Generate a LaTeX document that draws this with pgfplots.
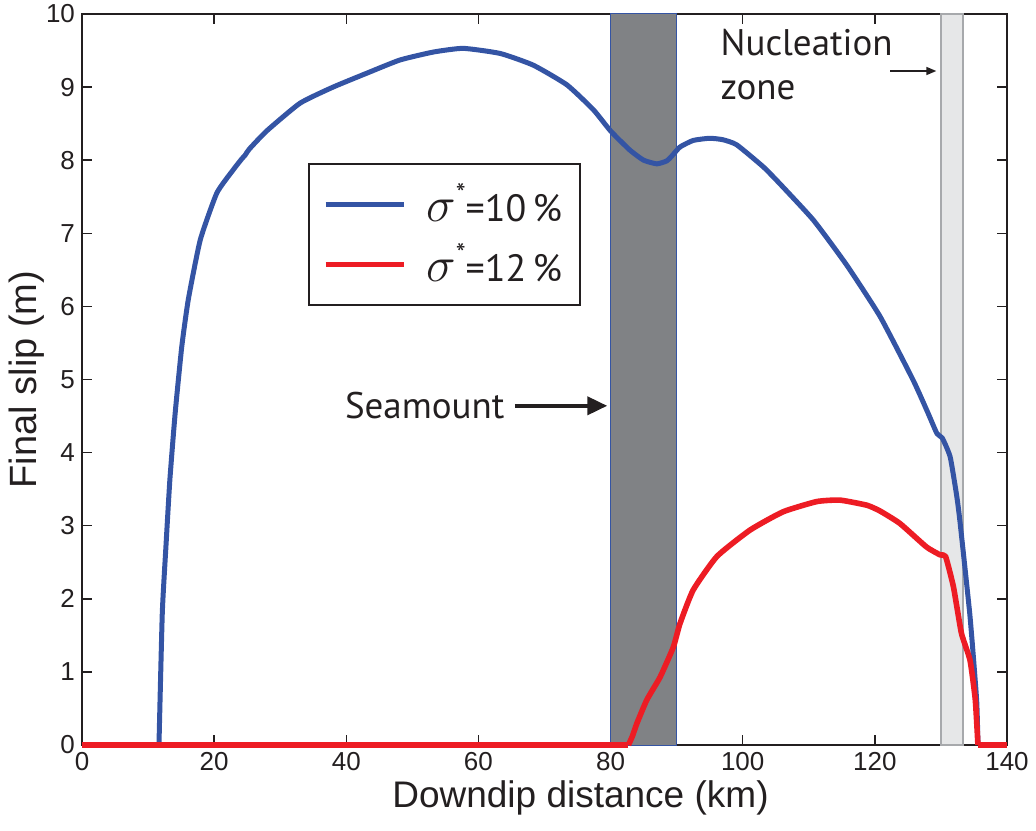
\documentclass[border=0pt]{standalone}
\usepackage{fontspec}
\setmainfont{Liberation Sans}
\newfontfamily\annot{PT Sans}
\usepackage{pgfplots}
\pgfplotsset{compat=1.18}
\usetikzlibrary{arrows.meta}
\definecolor{slipblue}{RGB}{52,84,164}
\definecolor{slipred}{RGB}{237,28,36}
\definecolor{seamount}{RGB}{128,130,133}
\definecolor{nucfill}{RGB}{230,231,232}
\definecolor{nucedge}{RGB}{167,169,172}
\definecolor{ink}{RGB}{35,31,32}
\newcommand{\sig}{{\fontsize{25}{25}\selectfont$\sigma$}\raisebox{9pt}{\fontsize{14}{14}\selectfont *}}

\begin{document}
\begin{tikzpicture}
% picture frame: axis box 462.5pt x 365.5pt plus margins
\useasboundingbox (-41pt,-42.5pt) rectangle (477pt,372.5pt);
\begin{axis}[
    at={(0,0)}, anchor=south west,
    scale only axis, width=462.5pt, height=365.5pt,
    xmin=0, xmax=140, ymin=0, ymax=10,
    xtick={0,20,...,140}, ytick={0,1,...,10},
    tick align=inside, major tick length=5pt,
    tick style={line width=0.7pt, color=ink},
    axis line style={line width=1pt, color=ink},
    ticklabel style={font=\fontsize{13}{15}\selectfont, text=ink},
    /pgf/number format/assume math mode=true,
    xlabel={Downdip distance (km)},
    ylabel={Final slip (m)},
    xlabel style={font=\fontsize{18.5}{20}\selectfont, text=ink,
        yshift=2pt, xshift=18pt},
    ylabel style={font=\fontsize{19}{21}\selectfont, text=ink, yshift=-6pt},
    clip=false,
    legend style={at={(axis cs:34.2,7.96)}, anchor=north west,
        draw=ink, line width=0.8pt, fill=white,
        font=\annot\fontsize{19}{22}\selectfont, text=ink,
        inner xsep=7pt, inner ysep=8pt, row sep=5.5pt},
    legend cell align=left,
    legend image code/.code={\draw[#1] (0pt,0pt) -- (39pt,0pt);},
]
% seamount and nucleation zone
\addplot[fill=seamount, draw=slipblue, line width=0.5pt, forget plot]
    coordinates {(80,0)(80,10)(90,10)(90,0)} -- cycle;
\addplot[fill=nucfill, draw=nucedge, line width=1pt, forget plot]
    coordinates {(130,0)(130,10)(133.3,10)(133.3,0)} -- cycle;

% sigma* = 10 %: zero parts, then the rupture
\addplot[slipblue, line width=2.5pt, forget plot]
    coordinates {(0,0)(11.65,0)};
\addplot[slipblue, line width=2.5pt, forget plot]
    coordinates {(135.6,0)(140,0)};
\addplot[slipblue, line width=2.5pt, line join=round, smooth, tension=0.3]
    coordinates {
    (11.65,0)(12.15,1.8)(12.7,2.71)(13.3,3.63)(14.1,4.54)
    (15.1,5.45)(16.1,6.1)(17.9,6.91)(20.4,7.55)(22.9,7.87)(24.2,8.02)
    (24.7,8.07)(25.3,8.15)(27.95,8.4)(33.0,8.78)(38.0,9.0)(43.1,9.19)
    (48.1,9.37)(53.2,9.48)(57.7,9.53)(63.3,9.46)(68.3,9.30)(73.4,9.03)
    (77.4,8.69)(80,8.4)(82.9,8.14)(85,8.0)(87.0,7.95)(88.5,7.99)(89.2,8.05)
    (90.5,8.18)(92.5,8.27)(95.0,8.30)(97,8.28)(99.1,8.21)(103.1,7.91)
    (105.6,7.68)(110.7,7.18)(115.7,6.57)(120.8,5.86)(125.8,4.99)(128,4.55)
    (129.4,4.26)(130.2,4.2)(131.4,3.94)(132.4,3.40)(132.9,3.04)(134.4,1.76)
    (135.4,0.62)(135.6,0)};
\addlegendentry{\hspace{8pt}\sig=10\,\%}

% sigma* = 12 %
\addplot[slipred, line width=2.8pt, forget plot]
    coordinates {(0,0)(82.7,0)};
\addplot[slipred, line width=2.8pt, forget plot]
    coordinates {(135.6,0)(140,0)};
\addplot[slipred, line width=2.8pt, line join=round, smooth, tension=0.3]
    coordinates {
    (82.7,0)(83.3,0.12)(84.0,0.30)(85.5,0.62)(87.5,0.93)(89.5,1.34)
    (90.5,1.66)(92.5,2.12)(96.1,2.58)(101.1,2.94)(106.1,3.19)(111.2,3.33)
    (114.7,3.35)(118.8,3.28)(120.8,3.2)(123.8,3.03)(127.8,2.71)(129.9,2.60)
    (130.7,2.58)(131.9,2.16)(133.1,1.53)(134.4,1.16)(135.2,0.62)(135.6,0)};
\addlegendentry{\hspace{8pt}\sig=12\,\%}

% annotations
\node[font=\annot\fontsize{18.5}{20}\selectfont, text=ink, anchor=east]
    at (axis cs:65.0,4.64) {Seamount};
\draw[ink, line width=2pt, -{Triangle[length=10pt,width=9pt]}]
    (axis cs:65.5,4.64) -- (axis cs:79.5,4.64);
\node[font=\annot\fontsize{18.5}{22}\selectfont, text=ink, anchor=north west,
    align=left, inner sep=0pt] at (axis cs:96.6,9.8) {Nucleation\\zone};
\draw[ink, line width=0.8pt, -{Triangle[length=5pt,width=4pt]}]
    (axis cs:122.3,9.22) -- (axis cs:129.3,9.22);
\end{axis}
\end{tikzpicture}
\end{document}
